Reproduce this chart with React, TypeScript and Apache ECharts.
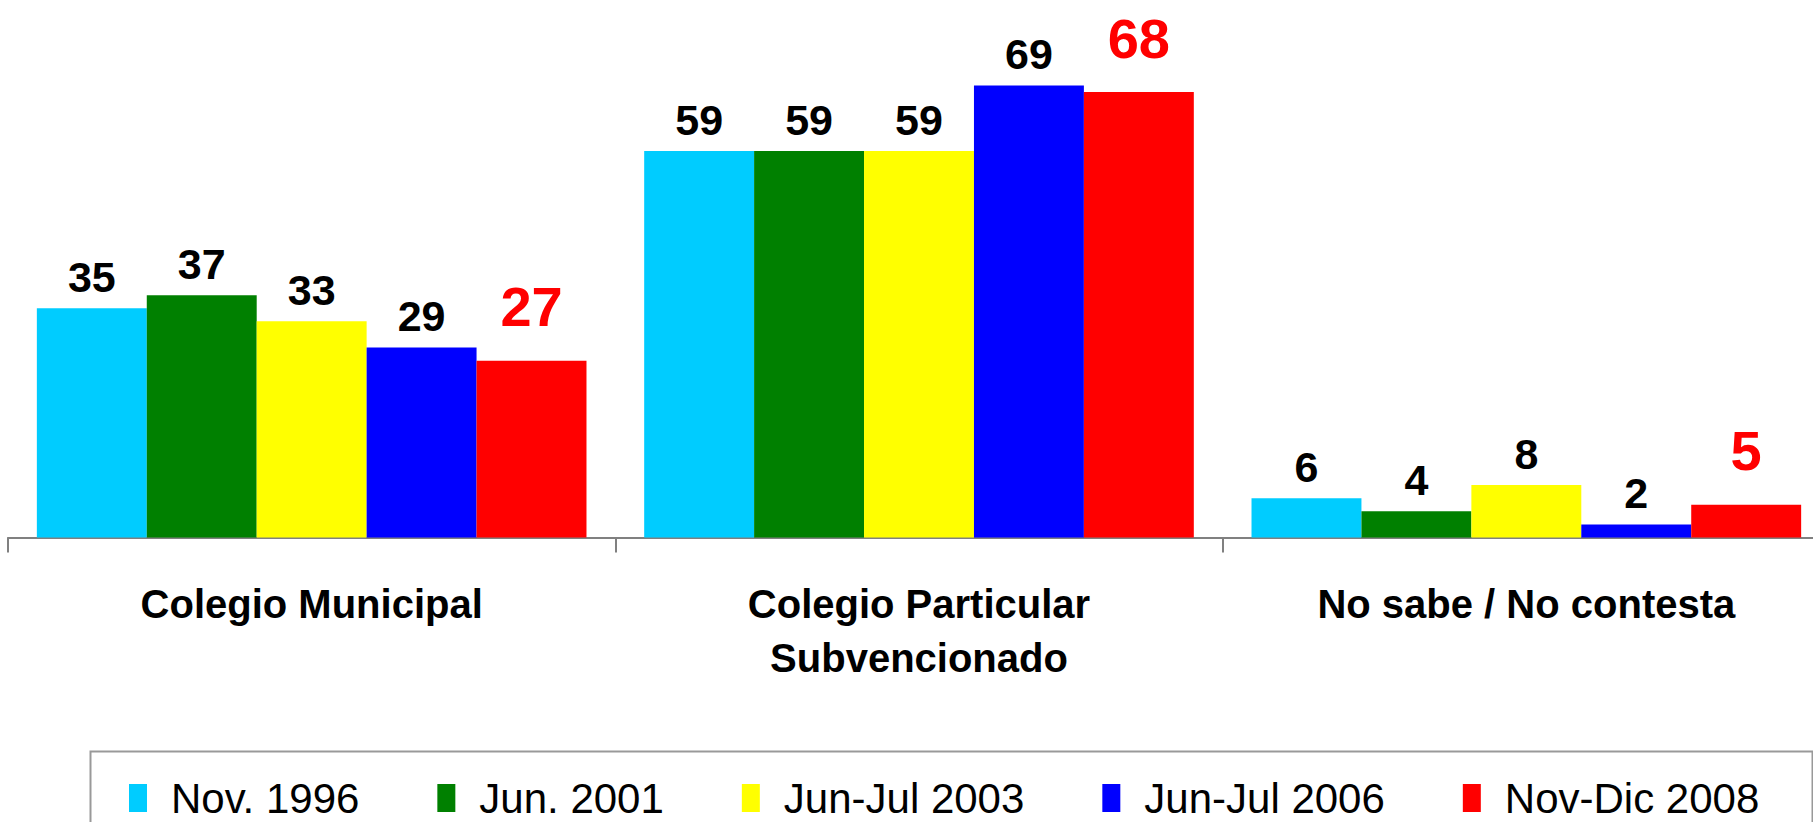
import React, { useEffect, useRef } from "react";
import * as echarts from "echarts";

const categories = ["Colegio Municipal", "Colegio Particular\nSubvencionado", "No sabe / No contesta"];
const seriesNames = ["Nov. 1996", "Jun. 2001", "Jun-Jul 2003", "Jun-Jul 2006", "Nov-Dic 2008"];
const nov1996 = [35, 59, 6];
const jun2001 = [37, 59, 4];
const junJul2003 = [33, 59, 8];
const junJul2006 = [29, 69, 2];
const novDic2008 = [27, 68, 5];
const seriesValues = [nov1996, jun2001, junJul2003, junJul2006, novDic2008];
const colors = ["#00CCFF", "#008000", "#FFFF00", "#0000FF", "#FF0000"];

const FONT = "'Liberation Sans', Arial, Helvetica, sans-serif";

export default function App() {
  const ref = useRef<HTMLDivElement>(null);
  useEffect(() => {
    if (!ref.current) return;
    const chart = echarts.init(ref.current, null, { renderer: "svg" });
    const series = seriesNames.map((name, i) => {
      const isLast = i === seriesNames.length - 1;
      return {
        name,
        type: "bar",
        data: seriesValues[i],
        itemStyle: { color: colors[i] },
        barGap: "0%",
        barCategoryGap: "9.5%",
        label: {
          show: true,
          position: "top",
          distance: isLast ? 26 : 10,
          color: isLast ? "#FF0000" : "#000000",
          fontFamily: FONT,
          fontWeight: "bold",
          fontSize: isLast ? 56 : 43,
          lineHeight: isLast ? 56 : 43,
        },
      };
    });
    chart.setOption({
      animation: false,
      backgroundColor: "#ffffff",
      grid: { left: 8, right: 10, top: 13.5, bottom: 284.5, containLabel: false },
      xAxis: {
        type: "category",
        data: categories,
        axisLine: { lineStyle: { color: "#808080", width: 2 } },
        axisTick: { show: true, length: 15, lineStyle: { color: "#808080", width: 2 } },
        axisLabel: {
          margin: 39,
          color: "#000",
          fontFamily: FONT,
          fontWeight: "bold",
          fontSize: 40,
          lineHeight: 54,
          interval: 0,
        },
      },
      yAxis: { type: "value", min: 0, max: 80, show: false, splitLine: { show: false } },
      legend: {
        left: 124,
        top: 772,
        itemWidth: 18,
        itemHeight: 28,
        itemGap: 78,
        icon: "rect",
        data: seriesNames,
        textStyle: {
          fontFamily: FONT,
          fontSize: 42,
          lineHeight: 42,
          color: "#000",
          padding: [0, 0, 0, 19],
        },
      },
      graphic: [
        {
          type: "rect",
          left: 88,
          top: 749,
          shape: { x: 0, y: 0, width: 1722, height: 110 },
          style: { fill: "none", stroke: "#999999", lineWidth: 2 },
          silent: true,
          z: -1,
        },
      ],
      series,
    });
    return () => chart.dispose();
  }, []);
  return (
    <div
      style={{ position: "fixed", left: 0, top: 0, width: 1813, height: 822, overflow: "hidden", background: "#fff" }}
    >
      <div ref={ref} style={{ width: 1840, height: 822 }} />
    </div>
  );
}
